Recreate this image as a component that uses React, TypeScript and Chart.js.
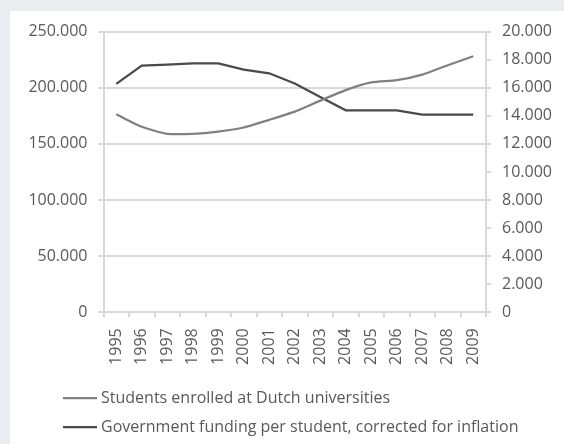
import React, { useEffect, useRef } from "react";
import { Chart, registerables } from "chart.js";

Chart.register(...registerables);

const years = ["1995","1996","1997","1998","1999","2000","2001","2002","2003","2004","2005","2006","2007","2008","2009"];
const students = [176400,165200,159000,159000,161000,164600,171400,178700,188500,197900,204700,206700,211700,220000,228000];
const funding = [16280,17570,17640,17740,17740,17290,17030,16300,15340,14390,14390,14390,14090,14090,14090];
const studentsLabel = "Students enrolled at Dutch universities";
const fundingLabel = "Government funding per student, corrected for inflation";

const fmt = (v: number) => String(Math.round(v)).replace(/\B(?=(\d{3})+(?!\d))/g, ".");

const FONT = "'Open Sans', 'Noto Sans', sans-serif";
const TEXT = "#595959";
const GRID = "#d9d9d9";

const legendPlugin = {
  id: "stackedLegend",
  afterDraw(chart: any) {
    const ctx = chart.ctx;
    ctx.save();
    ctx.font = `16px ${FONT}`;
    ctx.fillStyle = TEXT;
    ctx.textBaseline = "middle";
    ctx.textAlign = "left";
    const rows = [387, 416];
    chart.data.datasets.forEach((ds: any, i: number) => {
      const y = rows[i];
      ctx.strokeStyle = ds.borderColor;
      ctx.lineWidth = ds.borderWidth;
      ctx.beginPath();
      ctx.moveTo(53, y);
      ctx.lineTo(87, y);
      ctx.stroke();
      ctx.fillText(ds.label, 91, y);
    });
    ctx.restore();
  },
};

export default function App() {
  const ref = useRef<HTMLCanvasElement>(null);
  useEffect(() => {
    document.body.style.margin = "0";
    const chart = new Chart(ref.current!, {
      type: "line",
      data: {
        labels: years,
        datasets: [
          {
            label: studentsLabel,
            data: students,
            yAxisID: "y",
            borderColor: "#808080",
            backgroundColor: "#808080",
            borderWidth: 2.25,
            pointRadius: 0,
            tension: 0.2,
          },
          {
            label: fundingLabel,
            data: funding,
            yAxisID: "y1",
            borderColor: "#4a4a4a",
            backgroundColor: "#4a4a4a",
            borderWidth: 2.25,
            pointRadius: 0,
            tension: 0,
          },
        ],
      },
      options: {
        animation: false,
        responsive: false,
        maintainAspectRatio: false,
        layout: { padding: { top: 18.5, left: 0, right: 0, bottom: 0 } },
        plugins: { legend: { display: false }, tooltip: { enabled: false } },
        scales: {
          x: {
            offset: true,
            grid: { display: true, offset: true, drawOnChartArea: false, drawTicks: true, tickLength: 5, color: GRID, lineWidth: 2 },
            border: { display: true, color: GRID, width: 2 },
            ticks: { minRotation: 90, maxRotation: 90, autoSkip: false, padding: 11, color: TEXT, font: { family: FONT, size: 16 } },
            afterFit: (s: any) => { s.height = 131.7; },
          },
          y: {
            position: "left",
            min: 0,
            max: 250000,
            ticks: { stepSize: 50000, padding: 11, color: TEXT, font: { family: FONT, size: 16 }, callback: (v: any) => fmt(Number(v)) },
            grid: { color: GRID, lineWidth: 2, tickLength: 5, drawTicks: true },
            border: { display: true, color: GRID, width: 2 },
            afterFit: (s: any) => { s.width = 93.5; },
          },
          y1: {
            position: "right",
            min: 0,
            max: 20000,
            ticks: { stepSize: 2000, padding: 11, color: TEXT, font: { family: FONT, size: 16 }, callback: (v: any) => fmt(Number(v)) },
            grid: { drawOnChartArea: false, color: GRID, lineWidth: 2, tickLength: 5, drawTicks: true },
            border: { display: true, color: GRID, width: 2 },
            afterFit: (s: any) => { s.width = 78; },
          },
        },
      },
      plugins: [legendPlugin],
    });
    return () => chart.destroy();
  }, []);
  return (
    <div style={{ position: "absolute", left: 0, top: 0, width: 564, height: 444, background: "#eaecf0" }}>
      <div style={{ position: "absolute", left: 10, top: 11, width: 554, height: 433, background: "#ffffff" }}>
        <canvas ref={ref} width={554} height={433} style={{ display: "block", width: 554, height: 433 }} />
      </div>
    </div>
  );
}
